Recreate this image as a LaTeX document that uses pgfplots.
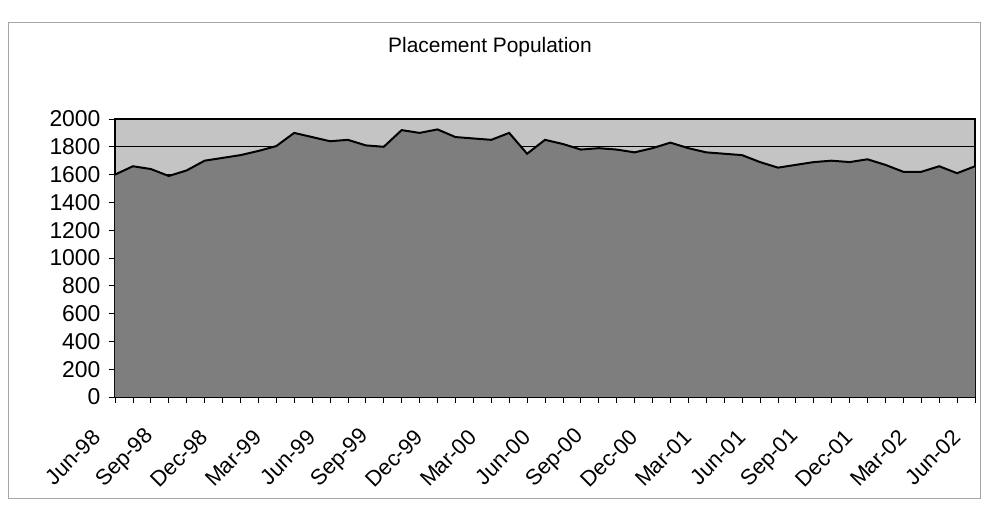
\documentclass[border=0pt]{standalone}
\usepackage{fontspec}
\setmainfont{Liberation Sans}
\usepackage{pgfplots}
\usepackage{pgfplotstable}
\pgfplotsset{compat=1.18}
\definecolor{bgfill}{HTML}{C4C4C4}
\definecolor{areafill}{HTML}{7E7E7E}
\pgfplotstableread{
m v
0 1600
1 1660
2 1640
3 1590
4 1630
5 1700
6 1720
7 1740
8 1770
9 1805
10 1900
11 1870
12 1840
13 1850
14 1810
15 1800
16 1920
17 1900
18 1925
19 1870
20 1860
21 1850
22 1900
23 1750
24 1850
25 1820
26 1780
27 1790
28 1780
29 1760
30 1790
31 1830
32 1790
33 1760
34 1750
35 1740
36 1690
37 1650
38 1670
39 1690
40 1700
41 1690
42 1710
43 1670
44 1620
45 1620
46 1660
47 1610
48 1660
}\datatable
\begin{document}
\begin{tikzpicture}[x=1bp,y=1bp]
\path (-115,-123) rectangle (871,397);
\draw[gray!70, line width=0.8bp] (-107,-101) rectangle (865,375);
\node[font=\fontsize{21}{24}\selectfont] at (375,350) {Placement Population};
\begin{axis}[at={(0,0)}, anchor=south west, scale only axis,
 width=860bp, height=278bp,
 xmin=0, xmax=48, ymin=0, ymax=2000,
 ytick={0,200,...,2000},
 xtick={0,3,...,48},
 minor xtick={0,1,...,48},
 xticklabels={Jun-98,Sep-98,Dec-98,Mar-99,Jun-99,Sep-99,Dec-99,Mar-00,Jun-00,Sep-00,Dec-00,Mar-01,Jun-01,Sep-01,Dec-01,Mar-02,Jun-02},
 tick align=outside, tick pos=left,
 major tick length=6bp, minor tick length=6bp,
 tick style={black, line width=0.8bp},
 ymajorgrids, grid style={black, line width=0.6bp},
 axis background/.style={fill=bgfill},
 axis line style={black, line width=1.2bp},
 yticklabel style={font=\fontsize{23}{26}\selectfont, xshift=-5bp},
 xticklabel style={font=\fontsize{22}{25}\selectfont, anchor=east, xshift=-16bp, yshift=-28bp, rotate=45},
 /pgf/number format/assume math mode=true,
 /pgf/number format/set thousands separator={},
]
\addplot[fill=areafill, draw=none] table[x=m, y=v] {\datatable} \closedcycle;
\addplot[black, line width=2bp] table[x=m, y=v] {\datatable};
\end{axis}
\end{tikzpicture}
\end{document}
